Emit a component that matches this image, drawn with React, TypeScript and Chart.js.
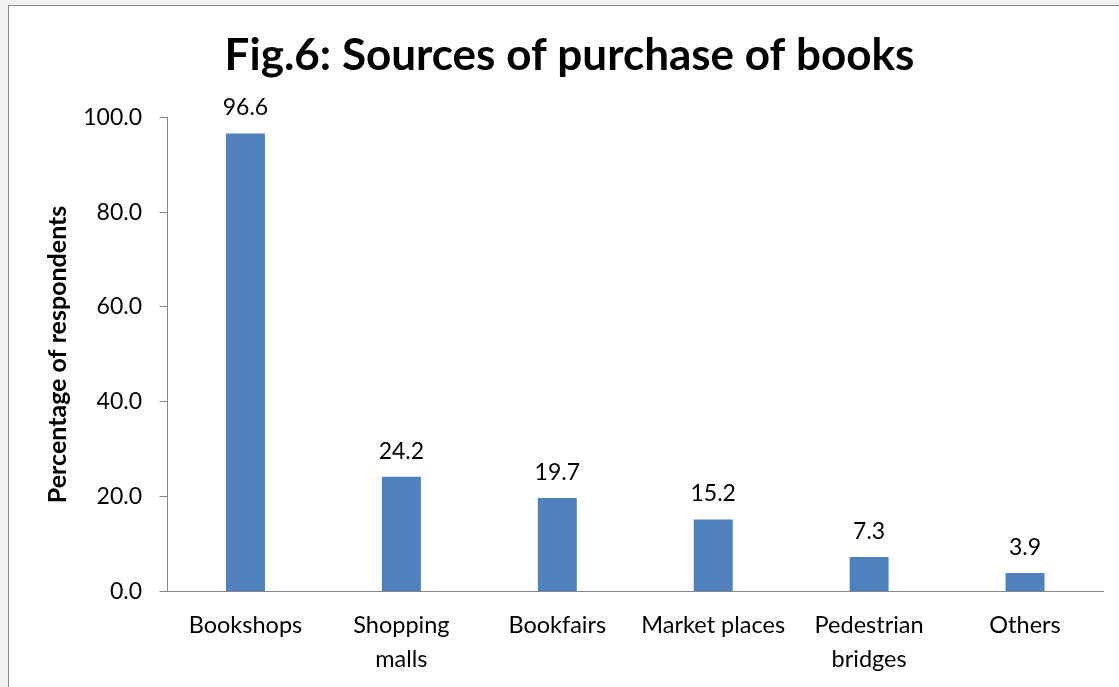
import React, { useEffect, useRef } from "react";
import { Chart, registerables } from "chart.js";

Chart.register(...registerables);

const categories: string[][] = [
  ["Bookshops"],
  ["Shopping", "malls"],
  ["Bookfairs"],
  ["Market places"],
  ["Pedestrian", "bridges"],
  ["Others"],
];
const values: number[] = [96.6, 24.2, 19.7, 15.2, 7.3, 3.9];
const yMin = 0;
const yMax = 100;
const yStep = 20;
const titleText = "Fig.6: Sources of purchase of books";
const yAxisTitle = "Percentage of respondents";

const FONT = "Lato";

const valueLabels = {
  id: "valueLabels",
  afterDatasetsDraw(chart: any) {
    const ctx = chart.ctx;
    const meta = chart.getDatasetMeta(0);
    ctx.save();
    ctx.font = `23px ${FONT}`;
    ctx.fillStyle = "#000";
    ctx.textAlign = "center";
    ctx.textBaseline = "alphabetic";
    meta.data.forEach((bar: any, i: number) => {
      ctx.fillText(values[i].toFixed(1), bar.x, bar.y - 18);
    });
    ctx.restore();
  },
};

export default function App() {
  const ref = useRef<HTMLCanvasElement | null>(null);

  useEffect(() => {
    if (!ref.current) return;
    const chart = new Chart(ref.current, {
      type: "bar",
      data: {
        labels: categories,
        datasets: [
          {
            data: values,
            backgroundColor: "#4F81BD",
            borderWidth: 0,
            barPercentage: 0.25,
            categoryPercentage: 1,
          },
        ],
      },
      options: {
        responsive: false,
        animation: false,
        layout: { padding: { left: 36, right: 16, top: 0, bottom: 0 } },
        plugins: {
          legend: { display: false },
          tooltip: { enabled: false },
          title: {
            display: true,
            text: titleText,
            color: "#000",
            font: { family: FONT, size: 44, weight: "bold", lineHeight: 1.2 },
            padding: { top: 29, bottom: 35.5 },
          },
        },
        scales: {
          x: {
            grid: { display: false, drawTicks: false },
            border: { display: true, color: "#868686", width: 1 },
            ticks: {
              color: "#000",
              font: { family: FONT, size: 23.5, lineHeight: 1.45 },
              padding: 17,
              maxRotation: 0,
              autoSkip: false,
            },
            afterFit(scale: any) {
              scale.height = 95.5;
            },
          },
          y: {
            min: yMin,
            max: yMax,
            ticks: {
              stepSize: yStep,
              color: "#000",
              font: { family: FONT, size: 23 },
              padding: 17.5,
              callback: (v: any) => Number(v).toFixed(1),
            },
            grid: {
              display: true,
              drawOnChartArea: false,
              drawTicks: true,
              tickLength: 8,
              color: "#868686",
            },
            border: { display: true, color: "#868686", width: 1 },
            title: {
              display: true,
              text: yAxisTitle,
              color: "#000",
              font: { family: FONT, size: 25, weight: "bold", lineHeight: 1.2 },
              padding: { top: 7, bottom: 0 },
            },
            afterFit(scale: any) {
              scale.width = 131.5;
            },
          },
        },
      },
      plugins: [valueLabels],
    });
    return () => chart.destroy();
  }, []);

  return (
    <div
      style={{
        position: "fixed",
        left: 0,
        top: 0,
        width: 1119,
        height: 687,
        background: "#f2f2f2",
        overflow: "hidden",
      }}
    >
      <div
        style={{
          position: "absolute",
          left: 8,
          top: 5,
          width: 1200,
          height: 800,
          background: "#fff",
          border: "1px solid #898989",
          boxSizing: "border-box",
        }}
      />
      <canvas
        ref={ref}
        width={1119}
        height={687}
        style={{ position: "absolute", left: 0, top: 0, width: 1119, height: 687 }}
      />
    </div>
  );
}
